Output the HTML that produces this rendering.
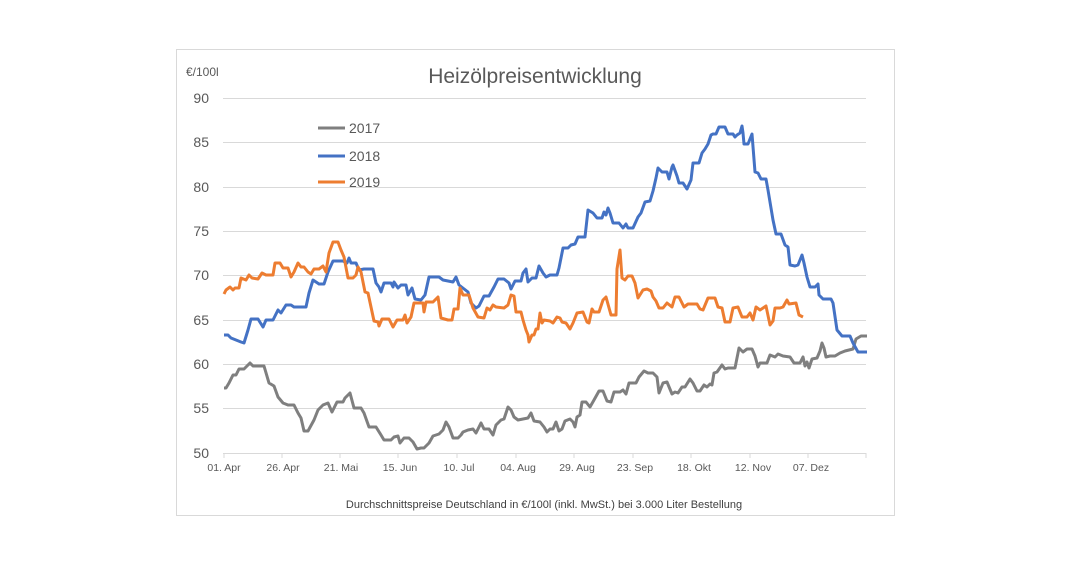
<!DOCTYPE html>
<html><head><meta charset="utf-8"><style>
html,body{margin:0;padding:0;background:#fff;}
svg{display:block;font-family:"Liberation Sans",sans-serif;}
</style></head><body>
<svg width="1091" height="583" viewBox="0 0 1091 583" xmlns="http://www.w3.org/2000/svg">
<rect x="176.5" y="49.5" width="718" height="466" fill="#fff" stroke="#d9d9d9"/>
<text x="535" y="83" font-size="21" fill="#595959" text-anchor="middle">Heizölpreisentwicklung</text>
<text x="186" y="76" font-size="12" fill="#595959">€/100l</text>
<g stroke="#d9d9d9" stroke-width="1">
<line x1="223" x2="866" y1="98.5" y2="98.5"/><line x1="223" x2="866" y1="142.5" y2="142.5"/>
<line x1="223" x2="866" y1="187.5" y2="187.5"/><line x1="223" x2="866" y1="231.5" y2="231.5"/>
<line x1="223" x2="866" y1="275.5" y2="275.5"/><line x1="223" x2="866" y1="320.5" y2="320.5"/>
<line x1="223" x2="866" y1="364.5" y2="364.5"/><line x1="223" x2="866" y1="408.5" y2="408.5"/>
<line x1="223" x2="866" y1="453.5" y2="453.5"/>
<line x1="224" x2="224" y1="453" y2="458"/><line x1="282" x2="282" y1="453" y2="458"/>
<line x1="340" x2="340" y1="453" y2="458"/><line x1="398" x2="398" y1="453" y2="458"/>
<line x1="457" x2="457" y1="453" y2="458"/><line x1="516" x2="516" y1="453" y2="458"/>
<line x1="574" x2="574" y1="453" y2="458"/><line x1="633" x2="633" y1="453" y2="458"/>
<line x1="691" x2="691" y1="453" y2="458"/><line x1="750" x2="750" y1="453" y2="458"/>
<line x1="808" x2="808" y1="453" y2="458"/><line x1="866" x2="866" y1="453" y2="458"/>
</g>
<g font-size="14" fill="#595959" text-anchor="end">
<text x="209" y="103">90</text><text x="209" y="147">85</text><text x="209" y="192">80</text>
<text x="209" y="236">75</text><text x="209" y="280">70</text><text x="209" y="325">65</text>
<text x="209" y="369">60</text><text x="209" y="413">55</text><text x="209" y="458">50</text>
</g>
<g font-size="10.5" fill="#595959" text-anchor="middle">
<text x="224" y="471">01. Apr</text><text x="283" y="471">26. Apr</text><text x="341" y="471">21. Mai</text>
<text x="400" y="471">15. Jun</text><text x="459" y="471">10. Jul</text><text x="518" y="471">04. Aug</text>
<text x="577" y="471">29. Aug</text><text x="635" y="471">23. Sep</text><text x="694" y="471">18. Okt</text>
<text x="753" y="471">12. Nov</text><text x="811" y="471">07. Dez</text>
</g>
<text x="544" y="508" font-size="11" fill="#404040" text-anchor="middle">Durchschnittspreise Deutschland in €/100l (inkl. MwSt.) bei 3.000 Liter Bestellung</text>
<g stroke-width="3" fill="none" stroke-linejoin="round">
<line x1="318" x2="345" y1="128" y2="128" stroke="#7f7f7f"/>
<line x1="318" x2="345" y1="156" y2="156" stroke="#4472c4"/>
<line x1="318" x2="345" y1="182" y2="182" stroke="#ed7d31"/>
<polyline stroke="#7f7f7f" points="224,388 226,388 229,383 233,375 236,375 239,369 244,369 250,363 253,366 264,366 269,383 274,386 278,397 283,403 288,405 294,405 298,413 301,418 304,431 308,431 314,420 318,410 323,405 328,403 332,412 337,402 343,402 345,398 350,393 354,408 361,408 364,413 369,427 376,427 381,435 384,440 391,440 394,437 398,436 400,443 404,438 409,438 413,442 417,449 421,448 424,448 429,443 433,436 439,434 443,430 446,422 449,427 453,438 458,438 461,435 463,432 468,430 473,429 476,433 481,423 484,429 489,429 493,435 496,425 501,420 504,419 508,407 511,410 514,417 518,420 523,419 528,418 531,413 534,421 540,422 544,427 547,432 550,429 553,429 556,422 559,431 562,429 565,421 570,419 573,422 575,427 577,417 580,415 582,402 586,402 590,407 594,400 599,391 603,391 607,401 611,402 614,392 620,392 623,390 626,394 629,383 636,383 639,377 644,371 648,373 653,373 657,377 659,393 663,383 667,382 672,394 675,392 678,393 682,387 685,387 690,379 693,383 697,391 700,391 704,385 707,387 710,384 712,385 714,373 717,372 722,365 725,369 728,368 735,368 739,348 743,352 747,349 752,349 755,356 758,367 760,363 767,363 770,355 775,357 778,354 783,356 790,357 794,363 800,363 803,357 805,366 807,362 809,368 812,359 817,358 820,351 822,343 824,348 826,357 830,356 835,356 840,353 845,351 853,349 856,339 861,336 867,336"/>
<polyline stroke="#4472c4" points="224,335 228,335 231,338 236,340 241,342 244,343 248,330 251,319 258,319 263,327 266,320 273,320 278,310 281,313 286,305 291,305 294,307 306,307 309,293 313,280 319,284 324,284 328,272 333,261 343,261 347,263 349,258 351,263 356,263 359,270 364,269 373,269 376,283 379,287 381,292 384,283 391,283 393,287 394,282 398,288 401,285 406,285 408,295 412,288 415,299 421,300 425,295 429,277 439,277 443,280 453,282 456,277 459,285 468,292 471,303 476,308 479,306 484,296 489,296 494,287 498,279 504,279 509,283 511,289 515,281 521,281 523,273 526,269 528,282 532,278 536,278 539,266 543,273 546,277 550,275 557,275 559,268 563,248 568,248 571,245 575,244 578,237 585,237 588,210 593,213 597,218 602,218 604,212 606,215 608,208 610,213 613,223 619,223 623,228 626,224 628,228 633,228 638,217 641,213 645,202 650,201 653,191 656,178 658,168 662,172 667,172 669,179 672,167 673,165 677,176 679,183 683,183 687,189 691,180 693,163 699,163 702,153 705,149 708,144 711,135 713,134 716,134 719,127 725,127 728,134 733,134 735,137 737,135 740,133 742,126 743,133 744,144 748,144 752,134 755,172 758,173 761,179 766,179 768,190 773,220 776,234 781,234 785,245 788,247 790,265 795,266 798,265 802,255 804,263 807,277 810,287 815,287 818,284 819,295 823,299 831,299 833,303 837,330 842,336 850,336 853,343 858,352 867,352"/>
<polyline stroke="#ed7d31" points="224,294 226,290 230,287 233,290 235,288 239,288 241,278 246,280 249,275 252,278 258,279 262,273 266,275 273,275 275,263 280,263 283,268 288,268 291,277 294,272 298,263 301,267 304,267 308,272 311,274 314,269 319,269 323,266 326,272 329,253 333,242 338,242 341,250 344,257 348,278 353,278 356,275 358,267 361,272 365,292 368,293 371,307 374,321 378,322 379,326 382,319 389,319 393,327 397,320 403,320 405,315 407,323 411,317 414,303 423,303 424,312 426,302 433,302 438,297 441,318 448,320 452,320 454,309 458,309 460,288 463,295 469,295 473,308 478,317 484,318 487,308 490,310 493,305 496,307 504,308 508,305 511,295 514,296 516,312 521,312 523,320 526,330 528,335 529,342 532,335 534,335 536,329 538,329 540,313 542,323 544,320 550,321 553,323 557,317 560,318 562,322 566,323 570,329 573,323 577,313 583,312 587,322 589,323 592,309 594,312 599,312 603,300 606,297 611,315 616,315 617,269 620,250 622,278 625,280 628,276 632,276 635,283 638,298 643,290 647,289 651,291 653,297 656,301 659,308 663,308 667,303 672,307 675,297 679,297 684,307 688,304 697,304 700,309 703,310 708,298 715,298 718,307 722,308 725,322 730,322 733,308 738,307 742,317 747,317 750,313 753,320 756,307 760,310 766,306 770,325 773,321 775,308 780,308 783,307 787,300 789,304 796,303 799,315 803,317"/>
</g>
<g font-size="14" fill="#595959">
<text x="349" y="133">2017</text><text x="349" y="161">2018</text><text x="349" y="187">2019</text>
</g>
</svg>
</body></html>
